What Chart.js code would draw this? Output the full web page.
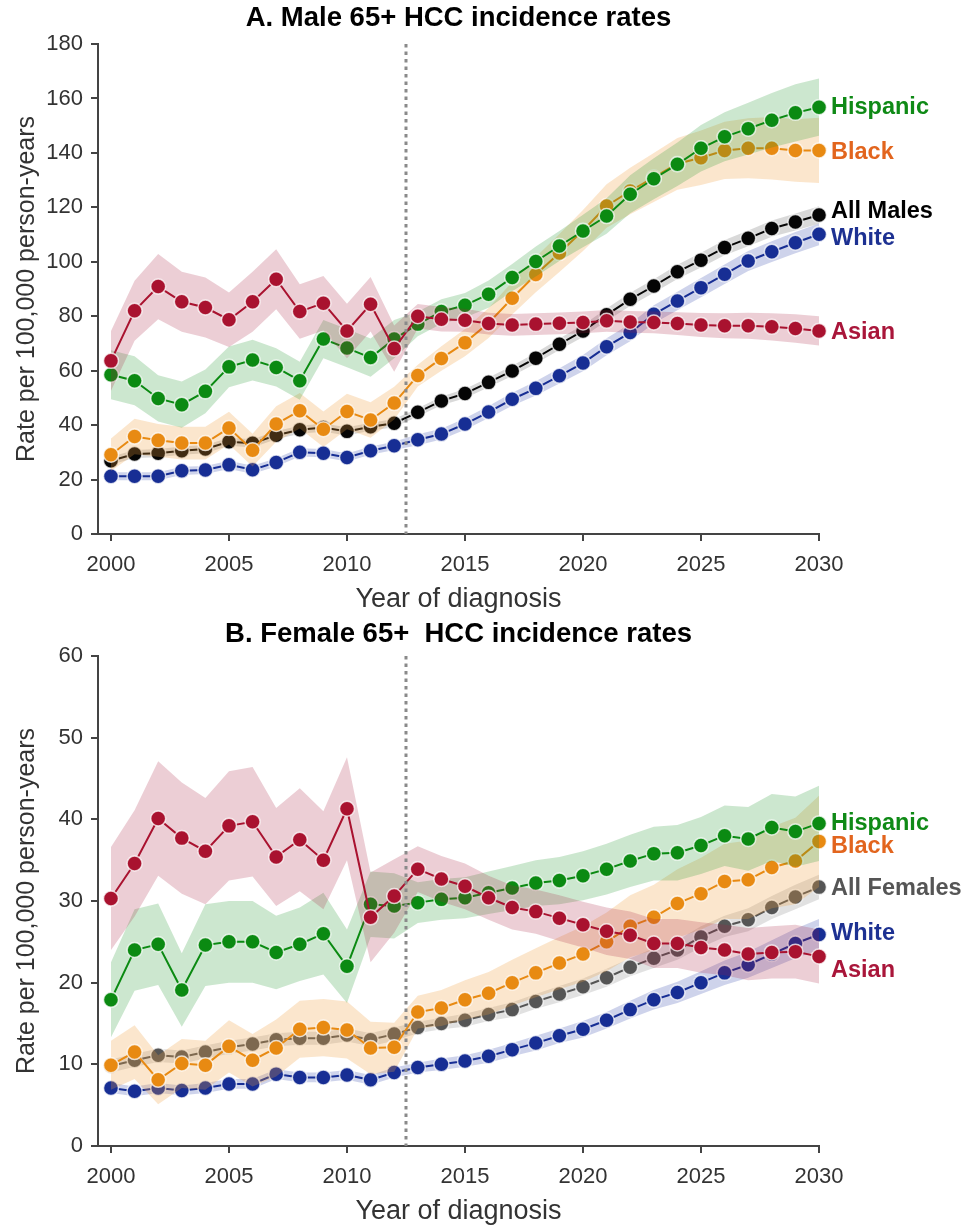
<!DOCTYPE html>
<html>
<head>
<meta charset="utf-8">
<title>HCC incidence rates, 65+</title>
<script src="https://cdn.jsdelivr.net/npm/chart.js@4.4.1/dist/chart.umd.min.js"></script>
<style>
  html, body { margin: 0; padding: 0; background: #ffffff; }
  canvas { display: block; }
</style>
</head>
<body>
<canvas id="maleChart" width="966" height="616"></canvas>
<canvas id="femaleChart" width="966" height="612"></canvas>
<script>
// ---- Data -------------------------------------------------------------
const years = [2000, 2001, 2002, 2003, 2004, 2005, 2006, 2007, 2008, 2009,
               2010, 2011, 2012, 2013, 2014, 2015, 2016, 2017, 2018, 2019,
               2020, 2021, 2022, 2023, 2024, 2025, 2026, 2027, 2028, 2029, 2030];
const xTicks = [2000, 2005, 2010, 2015, 2020, 2025, 2030];
const maleYTicks = [0, 20, 40, 60, 80, 100, 120, 140, 160, 180];
const femaleYTicks = [0, 10, 20, 30, 40, 50, 60];
const projectionStart = 2012.5;

// Male 65+, rate per 100,000 person-years
const maleWhite    = [21.2, 21.2, 21.2, 23.2, 23.5, 25.4, 23.6, 26.3, 30.0, 29.7, 28.1, 30.6, 32.4, 34.6, 36.7, 40.4, 44.8, 49.5, 53.5, 58.1, 62.8, 68.8, 74.0, 80.7, 85.6, 90.5, 95.4, 100.3, 103.7, 107.0, 110.1];
const maleAll      = [26.9, 29.4, 29.7, 30.6, 31.2, 33.9, 33.3, 36.3, 38.3, 39.1, 37.7, 39.4, 40.7, 44.7, 48.9, 51.6, 55.7, 59.9, 64.6, 69.7, 74.6, 80.5, 86.2, 91.1, 96.3, 100.6, 105.2, 108.6, 112.2, 114.6, 117.2];
const maleBlack    = [29.1, 35.8, 34.4, 33.4, 33.4, 38.9, 30.8, 40.4, 45.3, 38.5, 45.0, 41.9, 48.1, 58.2, 64.5, 70.3, 77.5, 86.6, 95.3, 103.2, 111.5, 120.5, 126.0, 131.0, 136.0, 138.2, 140.9, 141.7, 141.7, 140.9, 140.9];
const maleHispanic = [58.5, 56.3, 49.8, 47.5, 52.4, 61.4, 63.9, 61.2, 56.3, 71.6, 68.3, 64.8, 71.6, 77.1, 81.7, 84.0, 88.1, 94.2, 100.1, 105.8, 111.3, 116.8, 124.8, 130.5, 135.8, 141.7, 145.9, 148.9, 152.0, 154.7, 156.8];
const maleAsian    = [63.6, 82.0, 90.9, 85.3, 83.2, 78.7, 85.3, 93.6, 81.7, 84.8, 74.6, 84.4, 68.1, 80.0, 78.9, 78.5, 77.3, 76.8, 77.1, 77.4, 77.7, 78.3, 77.9, 77.7, 77.3, 76.8, 76.5, 76.5, 76.1, 75.5, 74.6];

// Half-widths of the 95% intervals (male)
const maleWhiteCI    = [1.5, 1.5, 1.5, 1.5, 1.5, 1.5, 1.5, 1.5, 1.5, 1.5, 1.5, 1.5, 1.5, 2.0, 2.0, 2.1, 2.2, 2.4, 2.6, 2.8, 3.0, 3.1, 3.2, 3.3, 3.4, 3.5, 3.6, 3.7, 3.8, 3.9, 4.0];
const maleAllCI      = [1.5, 1.5, 1.5, 1.5, 1.5, 1.5, 1.5, 1.5, 1.5, 1.5, 1.5, 1.5, 1.5, 1.5, 1.6, 1.7, 1.8, 1.9, 2.0, 2.1, 2.2, 2.3, 2.4, 2.5, 2.6, 2.7, 2.8, 2.9, 3.0, 3.1, 3.2];
const maleBlackCI    = [6.0, 6.5, 6.0, 6.0, 6.0, 6.0, 6.0, 6.5, 6.5, 6.5, 6.5, 6.5, 6.0, 4.0, 4.5, 5.0, 5.5, 6.0, 6.5, 7.0, 7.5, 8.0, 8.5, 9.0, 9.5, 10.0, 10.5, 11.0, 11.5, 11.5, 12.0];
const maleHispanicCI = [9.0, 9.0, 8.5, 8.5, 8.0, 7.5, 7.5, 7.0, 7.0, 7.0, 7.0, 7.0, 7.0, 4.5, 4.5, 4.5, 5.0, 5.0, 5.5, 5.5, 6.0, 6.5, 7.0, 7.5, 8.0, 8.5, 9.0, 9.5, 10.0, 10.5, 10.5];
const maleAsianCI    = [11.0, 11.0, 12.0, 11.0, 11.0, 10.0, 11.0, 11.0, 10.0, 10.0, 10.0, 10.0, 8.5, 4.5, 4.5, 4.2, 4.0, 4.0, 4.0, 4.0, 4.0, 4.0, 4.0, 4.0, 4.2, 4.4, 4.6, 4.8, 5.0, 5.2, 5.4];

// Female 65+, rate per 100,000 person-years
const femaleWhite    = [7.1, 6.7, 7.1, 6.8, 7.1, 7.6, 7.6, 8.8, 8.4, 8.4, 8.7, 8.1, 9.0, 9.6, 10.0, 10.4, 11.0, 11.8, 12.6, 13.5, 14.3, 15.4, 16.7, 17.9, 18.8, 20.0, 21.2, 22.2, 23.5, 24.8, 25.9];
const femaleAll      = [9.8, 10.5, 11.1, 10.9, 11.5, 12.1, 12.5, 13.0, 13.2, 13.2, 13.6, 13.0, 13.7, 14.5, 15.0, 15.4, 16.1, 16.7, 17.7, 18.6, 19.5, 20.6, 21.9, 23.0, 24.0, 25.6, 26.9, 27.7, 29.2, 30.5, 31.7];
const femaleBlack    = [9.9, 11.5, 8.1, 10.1, 9.9, 12.2, 10.5, 12.0, 14.3, 14.5, 14.2, 12.0, 12.1, 16.4, 16.9, 17.9, 18.7, 20.0, 21.2, 22.4, 23.5, 25.0, 26.9, 28.0, 29.7, 30.9, 32.4, 32.6, 34.1, 34.9, 37.3];
const femaleHispanic = [17.9, 24.0, 24.7, 19.1, 24.6, 25.0, 25.0, 23.7, 24.7, 26.0, 22.0, 29.6, 29.4, 29.8, 30.2, 30.4, 31.0, 31.6, 32.2, 32.5, 33.1, 33.9, 34.9, 35.8, 35.9, 36.8, 38.0, 37.6, 39.0, 38.5, 39.5];
const femaleAsian    = [30.3, 34.6, 40.1, 37.7, 36.1, 39.2, 39.7, 35.4, 37.5, 35.0, 41.3, 28.0, 30.6, 33.9, 32.7, 31.8, 30.4, 29.2, 28.7, 27.9, 27.1, 26.3, 25.8, 24.8, 24.8, 24.3, 24.0, 23.5, 23.7, 23.8, 23.2];

// Half-widths of the 95% intervals (female)
const femaleWhiteCI    = [0.6, 0.6, 0.6, 0.6, 0.6, 0.6, 0.6, 0.6, 0.6, 0.6, 0.6, 0.6, 0.6, 0.6, 0.7, 0.7, 0.8, 0.8, 0.9, 0.9, 1.0, 1.0, 1.1, 1.2, 1.3, 1.4, 1.5, 1.6, 1.7, 1.8, 1.9];
const femaleAllCI      = [0.8, 0.8, 0.8, 0.8, 0.8, 0.8, 0.8, 0.8, 0.8, 0.8, 0.8, 0.8, 0.8, 0.7, 0.7, 0.8, 0.8, 0.9, 0.9, 1.0, 1.0, 1.1, 1.1, 1.2, 1.2, 1.3, 1.3, 1.4, 1.4, 1.5, 1.5];
const femaleBlackCI    = [3.0, 3.3, 3.0, 3.0, 3.0, 3.2, 3.2, 3.5, 3.5, 3.5, 3.5, 3.2, 3.0, 2.0, 2.2, 2.4, 2.6, 2.8, 3.0, 3.2, 3.4, 3.6, 3.8, 4.0, 4.2, 4.4, 4.6, 4.8, 5.0, 5.3, 5.6];
const femaleHispanicCI = [4.6, 5.0, 5.0, 4.5, 5.0, 5.0, 5.0, 4.5, 4.5, 5.0, 4.5, 4.0, 4.0, 2.5, 2.5, 2.5, 2.6, 2.7, 2.8, 2.9, 3.0, 3.1, 3.2, 3.3, 3.4, 3.5, 3.7, 3.9, 4.1, 4.3, 4.6];
const femaleAsianCI    = [6.3, 6.5, 7.0, 6.8, 6.5, 6.7, 6.7, 6.0, 6.3, 6.0, 6.3, 5.5, 4.5, 2.8, 2.8, 2.8, 2.7, 2.7, 2.7, 2.8, 2.8, 2.9, 2.9, 3.0, 3.0, 3.1, 3.1, 3.2, 3.2, 3.3, 3.3];

// ---- Styling ----------------------------------------------------------
const FONT = '"Liberation Sans", Arial, Helvetica, sans-serif';
const AXIS_COLOR = '#444444';
const TEXT_COLOR = '#333333';

const palette = {
  white:    { line: '#172e94', band: 'rgba(30, 55, 165, 0.22)',  text: '#1d3192' },
  all:      { line: '#050505', band: 'rgba(0, 0, 0, 0.15)',      text: '#000000' },
  allF:     { line: '#555555', band: 'rgba(70, 70, 70, 0.16)',   text: '#555555' },
  black:    { line: '#e88a12', band: 'rgba(240, 160, 60, 0.26)', text: '#e2651e' },
  hispanic: { line: '#0b8a12', band: 'rgba(25, 145, 35, 0.22)',  text: '#0f8a16' },
  asian:    { line: '#a9122f', band: 'rgba(170, 30, 65, 0.22)',  text: '#a9163a' }
};

// ---- Chart builder ----------------------------------------------------
function buildDatasets(series) {
  const datasets = [];
  const n = series.length;
  series.forEach((s, k) => {
    // later series are painted over earlier ones (band, then line)
    const base = (n - 1 - k) * 2;
    const lowIndex = datasets.length;
    datasets.push({
      data: years.map((yr, i) => ({ x: yr, y: s.values[i] - s.ci[i] })),
      borderColor: 'rgba(0,0,0,0)', borderWidth: 0,
      pointRadius: 0, pointHoverRadius: 0, fill: false,
      order: base + 1
    });
    datasets.push({
      data: years.map((yr, i) => ({ x: yr, y: s.values[i] + s.ci[i] })),
      borderColor: 'rgba(0,0,0,0)', borderWidth: 0,
      pointRadius: 0, pointHoverRadius: 0,
      backgroundColor: s.color.band,
      fill: { target: lowIndex },
      order: base + 1
    });
    datasets.push({
      label: s.name,
      data: years.map((yr, i) => ({ x: yr, y: s.values[i] })),
      borderColor: s.color.line, borderWidth: 2,
      pointRadius: 7.5, pointHoverRadius: 7.5,
      pointBackgroundColor: s.color.line,
      pointBorderColor: 'rgba(255,255,255,0.75)', pointBorderWidth: 1.5,
      fill: false, clip: false,
      order: base
    });
  });
  return datasets;
}

function makeChart(canvasId, cfg) {
  const ctx = document.getElementById(canvasId);

  const decorations = {
    id: 'decorations_' + canvasId,
    afterDatasetsDraw(chart) {
      const { ctx, chartArea } = chart;
      const xs = chart.scales.x, ys = chart.scales.y;
      // projection boundary
      const px = xs.getPixelForValue(projectionStart);
      ctx.save();
      ctx.strokeStyle = '#8a8a8a';
      ctx.lineWidth = 3;
      ctx.setLineDash([3.5, 4]);
      ctx.beginPath();
      ctx.moveTo(px, chartArea.top);
      ctx.lineTo(px, chartArea.bottom);
      ctx.stroke();
      ctx.restore();
      // series names at the line ends
      ctx.save();
      ctx.font = 'bold 23.5px ' + FONT;
      ctx.textAlign = 'left';
      ctx.textBaseline = 'middle';
      cfg.series.forEach(s => {
        const last = s.values[s.values.length - 1];
        const y = ys.getPixelForValue(last) + s.labelShift;
        ctx.fillStyle = s.color.text;
        ctx.fillText(s.name, chartArea.right + 12, y);
      });
      ctx.restore();
    },
    afterDraw(chart) {
      const { ctx, chartArea } = chart;
      ctx.save();
      ctx.font = 'bold 27.5px ' + FONT;
      ctx.fillStyle = '#000000';
      ctx.textAlign = 'center';
      ctx.textBaseline = 'middle';
      ctx.fillText(cfg.title, (chartArea.left + chartArea.right) / 2, 18);
      ctx.restore();
    }
  };

  return new Chart(ctx, {
    type: 'line',
    data: { datasets: buildDatasets(cfg.series) },
    options: {
      responsive: false,
      animation: false,
      events: [],
      layout: { padding: { top: cfg.topPad, right: 147, left: 0, bottom: 0 } },
      plugins: {
        legend: { display: false },
        tooltip: { enabled: false },
        title: { display: false }
      },
      scales: {
        x: {
          type: 'linear',
          min: 1999.45, max: 2030,
          afterBuildTicks: s => { s.ticks = xTicks.map(v => ({ value: v })); },
          afterFit: s => { s.height = 82; },
          ticks: {
            callback: v => String(v),
            font: { family: FONT, size: 22 },
            color: TEXT_COLOR,
            padding: 11,
            maxRotation: 0
          },
          grid: { drawOnChartArea: false, drawTicks: true, tickLength: 7, color: AXIS_COLOR, lineWidth: 2 },
          border: { display: true, color: AXIS_COLOR, width: 2 },
          title: {
            display: true, text: 'Year of diagnosis',
            font: { family: FONT, size: 27 }, color: TEXT_COLOR,
            padding: { top: 0, bottom: 0 }
          }
        },
        y: {
          min: 0, max: cfg.yMax,
          afterBuildTicks: s => { s.ticks = cfg.yTicks.map(v => ({ value: v })); },
          afterFit: s => { s.width = 98; },
          ticks: {
            callback: v => String(v),
            font: { family: FONT, size: 22 },
            color: TEXT_COLOR,
            padding: 8
          },
          grid: { drawOnChartArea: false, drawTicks: true, tickLength: 7, color: AXIS_COLOR, lineWidth: 2 },
          border: { display: true, color: AXIS_COLOR, width: 2 },
          title: {
            display: true, text: 'Rate per 100,000 person-years',
            font: { family: FONT, size: 25 }, color: TEXT_COLOR,
            padding: { top: 12, bottom: 0 }
          }
        }
      }
    },
    plugins: [decorations]
  });
}

makeChart('maleChart', {
  title: 'A. Male 65+ HCC incidence rates',
  topPad: 44,
  yMax: 180,
  yTicks: maleYTicks,
  series: [
    { name: 'White',     values: maleWhite,    ci: maleWhiteCI,    color: palette.white,    labelShift: 4 },
    { name: 'All Males', values: maleAll,      ci: maleAllCI,      color: palette.all,      labelShift: -3 },
    { name: 'Black',     values: maleBlack,    ci: maleBlackCI,    color: palette.black,    labelShift: 2 },
    { name: 'Hispanic',  values: maleHispanic, ci: maleHispanicCI, color: palette.hispanic, labelShift: 0 },
    { name: 'Asian',     values: maleAsian,    ci: maleAsianCI,    color: palette.asian,    labelShift: 2 }
  ]
});

makeChart('femaleChart', {
  title: 'B. Female 65+  HCC incidence rates',
  topPad: 40,
  yMax: 60,
  yTicks: femaleYTicks,
  series: [
    { name: 'White',       values: femaleWhite,    ci: femaleWhiteCI,    color: palette.white,    labelShift: -1 },
    { name: 'All Females', values: femaleAll,      ci: femaleAllCI,      color: palette.allF,     labelShift: 1 },
    { name: 'Black',       values: femaleBlack,    ci: femaleBlackCI,    color: palette.black,    labelShift: 5 },
    { name: 'Hispanic',    values: femaleHispanic, ci: femaleHispanicCI, color: palette.hispanic, labelShift: 0 },
    { name: 'Asian',       values: femaleAsian,    ci: femaleAsianCI,    color: palette.asian,    labelShift: 14 }
  ]
});
</script>
</body>
</html>
